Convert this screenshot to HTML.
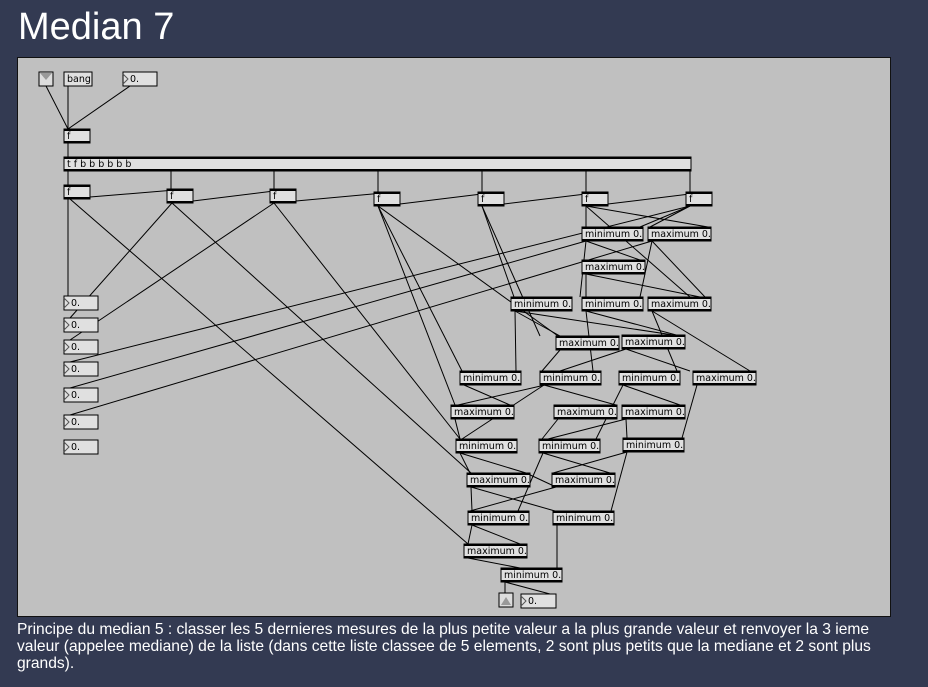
<!DOCTYPE html><html><head><style>
body{margin:0;width:928px;height:687px;background:#333a52;overflow:hidden;font-family:"Liberation Sans",sans-serif}
h1{position:absolute;left:18px;top:6px;margin:0;font-weight:normal;color:#fff;font-size:38px}
#p{position:absolute;left:17px;top:57px;width:872px;height:558px;background:#c0c0c0;border:1px solid #111}
#c{position:absolute;left:17px;top:621px;width:885px;color:#fff;font-size:15.6px;line-height:17px}
svg{position:absolute;left:0;top:0}
text{font-family:"DejaVu Sans","Liberation Sans",sans-serif;font-size:9.5px}
</style></head><body>
<h1>Median 7</h1><div id="p"></div>
<svg width="928" height="687" id="s"></svg>
<div id="c">Principe du median 5 : classer les 5 dernieres mesures de la plus petite valeur a la plus grande valeur et renvoyer la 3 ieme valeur (appelee mediane) de la liste (dans cette liste classee de 5 elements, 2 sont plus petits que la mediane et 2 sont plus grands).</div>
<script>
var s=document.getElementById('s'),h='';
function L(a,b,c,d){h+='<line x1="'+a+'" y1="'+b+'" x2="'+c+'" y2="'+d+'" stroke="#000" stroke-width="1"/>';}
var B=[];
function X(x,y,w,t,hh){B.push([x,y,w,t,hh||14]);}
X(64,129,26,'f');X(64,157,627,'t f b b b b b b');
var F=[[64,185],[167,189],[270,189],[374,192],[478,192],[582,192],[686,192]];
F.forEach(function(f){X(f[0],f[1],26,'f')});
var M=[[582,227,'minimum 0.'],[648,227,'maximum 0.'],[582,260,'maximum 0.'],[511,297,'minimum 0.'],[582,297,'minimum 0.'],[648,297,'maximum 0.'],[556,336,'maximum 0.'],[622,335,'maximum 0.'],[460,371,'minimum 0.'],[540,371,'minimum 0.'],[619,371,'minimum 0.'],[693,371,'maximum 0.'],[451,405,'maximum 0.'],[554,405,'maximum 0.'],[622,405,'maximum 0.'],[456,439,'minimum 0.'],[539,439,'minimum 0.'],[623,438,'minimum 0.'],[467,473,'maximum 0.'],[552,473,'maximum 0.'],[468,511,'minimum 0.'],[553,511,'minimum 0.'],[464,544,'maximum 0.'],[501,568,'minimum 0.']];
M.forEach(function(m){X(m[0],m[1],m[2][1]=='a'?63:61,m[2])});
L(46,86,68,129);L(68,86,68,129);L(130,86,68,129);L(68,143,68,157);
F.forEach(function(f,i){L(f[0]+4,171,f[0]+4,f[1]);if(i<6)L(f[0]+26,f[1]+12,F[i+1][0]+20,F[i+1][1]);});
var N=[296,318,340,362,388,415,440];
L(68,199,68,296);L(70,199,468,544);
L(172,203,70,318);L(172,203,471,473);
L(274,203,70,340);L(274,203,460,439);
L(378,206,462,371);L(378,206,558,336);L(378,206,455,405);
L(482,206,514,297);L(482,206,540,336);
L(586,206,586,227);L(586,206,708,227);L(586,206,690,297);
L(690,206,640,227);L(690,206,650,227);L(690,206,70,362);
L(586,241,70,388);L(586,241,640,260);L(586,241,580,297);
L(652,241,70,415);L(652,241,640,297);L(652,241,705,297);
L(586,274,586,297);L(586,274,700,297);
L(515,311,516,371);L(515,311,560,336);L(515,311,680,336);
L(586,311,593,371);L(586,311,680,336);
L(652,311,677,371);L(652,311,750,371);
L(560,350,542,371);L(560,350,616,350);
L(626,349,560,371);L(626,349,690,371);
L(464,385,510,405);L(544,385,616,405);L(544,385,462,439);
L(623,385,680,405);L(623,385,596,439);
L(697,385,682,438);L(545,385,458,405);
L(455,419,460,439);L(455,419,512,405);L(558,419,542,439);L(558,419,612,405);
L(626,419,627,438);L(626,419,548,439);
L(460,453,526,473);L(460,453,470,473);
L(543,453,518,511);L(543,453,610,473);
L(627,452,553,473);L(627,452,611,511);
L(471,487,472,511);L(471,487,555,511);L(556,487,526,473);L(556,487,470,511);
L(472,525,520,544);L(472,525,468,544);L(557,525,557,568);
L(468,558,520,568);L(505,582,505,593);L(505,582,550,594);
function num(x,y,w){h+='<rect x="'+x+'" y="'+y+'" width="'+w+'" height="14" fill="#e0e0e0" stroke="#000"/><path d="M'+x+' '+(y+2)+'l5 5l-5 5" fill="none" stroke="#555"/><text x="'+(x+7)+'" y="'+(y+10)+'">0.</text>';}
num(123,72,34);num(521,594,35);N.forEach(function(y){num(64,y,34)});
h+='<rect x="39" y="72" width="14" height="14" fill="#ddd" stroke="#000"/><path d="M40 73l6 7l6-7z" fill="#999"/>';
h+='<rect x="64" y="72" width="28" height="14" fill="#e0e0e0" stroke="#000"/><text x="67" y="82">bang</text>';
h+='<rect x="499" y="593" width="14" height="14" fill="#ddd" stroke="#000"/><path d="M501 605l5-8l5 8z" fill="#999"/>';
B.forEach(function(b){var x=b[0],y=b[1],w=b[2];h+='<rect x="'+x+'" y="'+y+'" width="'+w+'" height="14" fill="#e0e0e0" stroke="#000"/><rect x="'+x+'" y="'+y+'" width="'+w+'" height="2"/><rect x="'+x+'" y="'+(y+12)+'" width="'+w+'" height="2"/><text x="'+(x+3)+'" y="'+(y+10)+'">'+b[3]+'</text>';});
s.innerHTML=h;
</script></body></html>
